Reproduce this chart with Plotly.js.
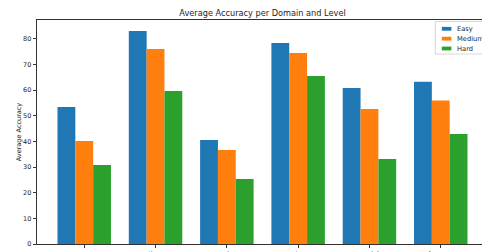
<!DOCTYPE html>
<html>
<head>
<meta charset="utf-8">
<script src="https://cdn.plot.ly/plotly-3.0.1.min.js"></script>
<style>
html,body{margin:0;padding:0;overflow:hidden;background:#fff;}
#chart{width:490px;height:252px;}
</style>
</head>
<body>
<div id="chart"></div>
<script>
const domains = ["space", "time", "mix", "nature", "social", "Average"];
const easy = [53.4, 83.0, 40.5, 78.3, 60.8, 63.2];
const medium = [40.1, 76.0, 36.6, 74.4, 52.6, 55.9];
const hard = [30.8, 59.6, 25.3, 65.5, 33.1, 42.9];
const levelNames = ["Easy", "Medium", "Hard"];
const levelColors = ["#1f77b4", "#ff7f0e", "#2ca02c"];
const series = [easy, medium, hard];

const traces = series.map((vals, i) => ({
  type: "bar",
  name: levelNames[i],
  x: domains,
  y: vals,
  marker: {color: levelColors[i], line: {width: 0}},
  hoverinfo: "none",
  showlegend: false
}));

const fontFam = "DejaVu Sans, sans-serif";
const W = 490, H = 252, L = 37, R = 2, T = 20, B = 8;
const pw = W - L - R, ph = H - T - B;
const px2x = p => (p - L) / pw;
const py2y = p => (H - B - p) / ph;

// legend built from the level names/colours
const shapes = [{
  type: "rect", xref: "paper", yref: "paper", layer: "above",
  x0: px2x(435.3), x1: px2x(505), y0: py2y(54), y1: py2y(21.5),
  line: {color: "#cccccc", width: 0.8}, fillcolor: "rgba(255,255,255,0.8)"
}];
const annotations = [];
levelNames.forEach((name, i) => {
  const cy = 28.8 + i * 9.85;
  shapes.push({
    type: "rect", xref: "paper", yref: "paper", layer: "above",
    x0: px2x(441.8), x1: px2x(451.4), y0: py2y(cy + 1.9), y1: py2y(cy - 1.9),
    line: {width: 0}, fillcolor: levelColors[i]
  });
  annotations.push({
    xref: "paper", yref: "paper", x: px2x(454.5), y: py2y(cy),
    xanchor: "left", yanchor: "middle", showarrow: false,
    text: name, font: {family: fontFam, size: 6.7, color: "#262626"}
  });
});

const layout = {
  width: W,
  height: H,
  margin: {l: L, r: R, t: T, b: B, pad: 0},
  paper_bgcolor: "#fff",
  plot_bgcolor: "#fff",
  barmode: "group",
  bargap: 0.25,
  bargroupgap: 0,
  showlegend: false,
  font: {family: fontFam, size: 6.3, color: "#262626"},
  title: {text: "Average Accuracy per Domain and Level", font: {family: fontFam, size: 8.2, color: "#262626"}, x: 0.5, xref: "paper", xanchor: "center", y: 1 - 13.5 / H, yref: "container", yanchor: "middle"},
  xaxis: {
    range: [-0.6625, 5.6625],
    showline: true, mirror: true, linecolor: "#000", linewidth: 0.8,
    ticks: "outside", ticklen: 3.5, tickwidth: 0.8, tickcolor: "#000",
    showgrid: false, zeroline: false,
    tickfont: {family: fontFam, size: 6.5, color: "#262626"}
  },
  yaxis: {
    range: [0, 87.3],
    tickvals: [0, 10, 20, 30, 40, 50, 60, 70, 80],
    showline: true, mirror: true, linecolor: "#000", linewidth: 0.8,
    ticks: "outside", ticklen: 3.5, tickwidth: 0.8, tickcolor: "#000",
    showgrid: false, zeroline: false,
    tickfont: {family: fontFam, size: 6.5, color: "#262626"},
    title: {text: "Average Accuracy", font: {family: fontFam, size: 6.5, color: "#262626"}, standoff: 0}
  },
  shapes: shapes,
  annotations: annotations
};

Plotly.newPlot("chart", traces, layout, {staticPlot: true, displayModeBar: false});
</script>
</body>
</html>
